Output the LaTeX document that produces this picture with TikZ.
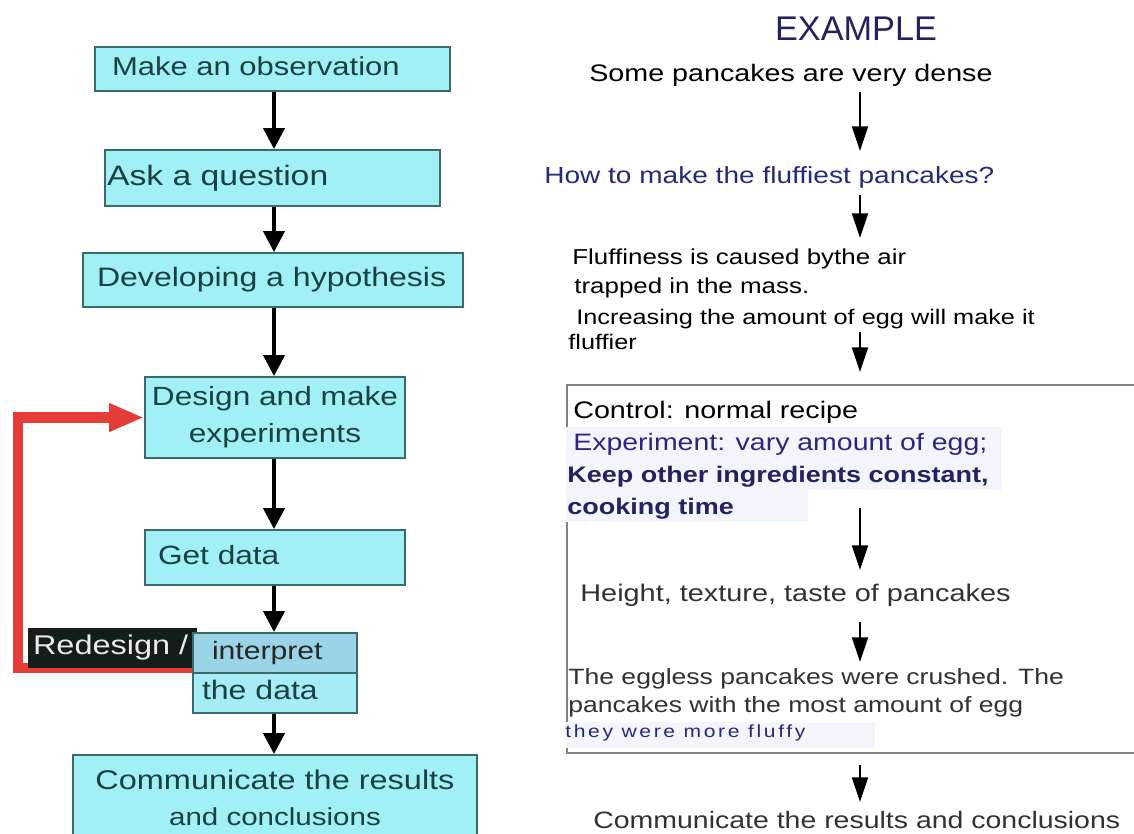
\documentclass[tikz,border=0pt]{standalone}
\usepackage{fontspec}
\setmainfont{Liberation Sans}
\newfontfamily\wf[FakeStretch=1.2]{Liberation Sans}
\newfontfamily\nf{Liberation Sans}
\newfontfamily\lsf[FakeStretch=1.2,LetterSpace=15]{Liberation Sans}
\usetikzlibrary{arrows.meta}
\definecolor{cyanfill}{RGB}{160,240,245}
\definecolor{interpfill}{RGB}{155,212,230}
\definecolor{datafill}{RGB}{165,236,245}
\definecolor{boxline}{RGB}{60,105,105}
\definecolor{tealtext}{RGB}{25,65,65}
\definecolor{redc}{RGB}{228,60,55}
\definecolor{navy}{RGB}{40,40,125}
\definecolor{navyd}{RGB}{35,35,95}
\definecolor{darkg}{RGB}{50,50,50}
\definecolor{hl}{RGB}{243,245,252}
\definecolor{frameg}{RGB}{130,130,130}
\definecolor{rdblack}{RGB}{20,28,28}
\newcommand\fs[1]{\fontsize{#1}{#1}\selectfont}
\begin{document}
\begin{tikzpicture}[x=0.02cm,y=-0.02cm,
  box/.style={draw=boxline, line width=1pt, fill=cyanfill, text=tealtext, inner ysep=0pt},
  one/.style={text height=11pt, text depth=3.5pt, align=left},
  bigarr/.style={line width=2.3pt, -{Triangle[length=12pt,width=12pt]}},
  smallarr/.style={line width=1.4pt, -{Triangle[length=14pt,width=9pt]}},
  redarr/.style={draw=redc, line width=5.7pt, line join=miter, -{Triangle[length=20pt,width=15pt]}},
  rt/.style={inner sep=0pt, anchor=base west}]
\clip (0,0) rectangle (1134,834);
\fill[white] (0,0) rectangle (1134,834);

% ---------- left flow ----------
\node[box, one, font=\wf\fs{14.7}, minimum height=0.88cm, text width=6.42cm, inner xsep=0.34cm] (obs) at (272.5,69) {Make an observation};
\node[box, one, font=\wf\fs{16}, text height=11.5pt, minimum height=1.12cm, text width=6.62cm, inner xsep=0.04cm] (ask) at (272.5,178) {Ask a question};
\node[box, one, font=\wf\fs{15.2}, minimum height=1.08cm, text width=7.04cm, inner xsep=0.28cm] (hyp) at (273,280) {Developing a hypothesis};
\node[box, font=\wf\fontsize{15}{21}\selectfont, align=center, minimum width=5.2cm, minimum height=1.62cm] (design) at (275,417.5) {Design and make\\experiments};
\node[box, one, font=\wf\fs{15}, minimum height=1.1cm, text width=4.68cm, inner xsep=0.26cm] (getdata) at (275,557.5) {Get data};

\coordinate (rs) at (200,668);
\coordinate (rl) at (18,668);
\draw[redarr] (rs) -- (rl) |- (design.west);

\node[fill=rdblack, text=white!92!black, one, font=\wf\fs{15.4}, inner ysep=0pt, minimum height=0.8cm, text width=3.18cm, inner xsep=0.1cm] (redesign) at (112.5,648) {Redesign /};
\node[box, fill=interpfill, one, text=black!85, font=\wf\fs{14.3}, minimum height=0.8cm, text width=2.52cm, inner xsep=0.38cm] (interp) at (275,653) {interpret};
\node[box, fill=datafill, one, font=\wf\fs{15.2}, minimum height=0.8cm, text width=2.92cm, inner xsep=0.18cm] (thedata) at (275,693) {the data};
\node[box, align=center, font=\wf\fontsize{15.4}{20.4}\selectfont, minimum width=8.08cm, minimum height=1.7cm] (comm) at (275,797.5)
  {Communicate the results\\\fontsize{14}{20.4}\selectfont and conclusions};

\coordinate (ax) at (274,0);
\draw[bigarr] (obs.south -| ax) -- (ask.north -| ax);
\draw[bigarr] (ask.south -| ax) -- (hyp.north -| ax);
\draw[bigarr] (hyp.south -| ax) -- (design.north -| ax);
\draw[bigarr] (design.south -| ax) -- (getdata.north -| ax);
\draw[bigarr] (getdata.south -| ax) -- (interp.north -| ax);
\draw[bigarr] (thedata.south -| ax) -- (comm.north -| ax);

% ---------- right example ----------
\draw[frameg, line width=1.3pt] (567,385) rectangle (1145,753);
\fill[hl] (566,427) rectangle (1002,490);
\fill[hl] (566,490) rectangle (808,522);
\fill[hl] (566,722) rectangle (875,748);

\node[inner sep=0pt, font=\nf\fs{19.5}, text=navyd] (ex) at (856,29) {EXAMPLE};
\node[rt, font=\wf\fs{13.6}, text=black] (dense) at (589,82) {Some pancakes are very dense};
\node[rt, font=\wf\fs{13.3}, text=navy] (how) at (544,184) {How to make the fluffiest pancakes?};
\node[rt, font=\wf\fs{12.3}, text=black] (h1) at (572,265) {Fluffiness is caused bythe air};
\node[rt, font=\wf\fs{12.3}, text=black] (h2) at (574,294) {trapped in the mass.};
\node[rt, font=\wf\fs{12}, text=black] (h3) at (576,325) {Increasing the amount of egg will make it};
\node[rt, font=\wf\fs{12}, text=black] (h4) at (568,350) {fluffier};
\node[rt, font=\wf\fs{13.6}, text=black] (ctrl) at (573,419) {Control: normal recipe};
\node[rt, font=\wf\fs{13.5}, text=navy] (expm) at (573,451) {Experiment: vary amount of egg;};
\node[rt, font=\wf\bfseries\fs{12.8}, text=navyd] (keep) at (567,483) {Keep other ingredients constant,};
\node[rt, font=\wf\bfseries\fs{12.8}, text=navyd] (cook) at (567,515) {cooking time};
\node[rt, font=\wf\fs{13.7}, text=darkg] (meas) at (580,602) {Height, texture, taste of pancakes};
\node[rt, font=\wf\fs{12.6}, text=darkg] (r1) at (568,685) {The eggless pancakes were crushed. The};
\node[rt, font=\wf\fs{12.6}, text=darkg] (r2) at (568,713) {pancakes with the most amount of egg};
\node[rt, font=\lsf\fs{10}, text=navy] (r3) at (565,738) {they were more fluffy};
\node[rt, font=\wf\fs{13.5}, text=darkg] (rcomm) at (593,829) {Communicate the results and conclusions};

\coordinate (a1s) at (860,92);  \coordinate (a1e) at (860,151);
\coordinate (a2s) at (860,195); \coordinate (a2e) at (860,238);
\coordinate (a3s) at (860,332); \coordinate (a3e) at (860,372);
\coordinate (a4s) at (860,508); \coordinate (a4e) at (860,570);
\coordinate (a5s) at (860,622); \coordinate (a5e) at (860,662);
\coordinate (a6s) at (860,765); \coordinate (a6e) at (860,802);
\draw[smallarr] (a1s) -- (a1e);
\draw[smallarr] (a2s) -- (a2e);
\draw[smallarr] (a3s) -- (a3e);
\draw[smallarr] (a4s) -- (a4e);
\draw[smallarr] (a5s) -- (a5e);
\draw[smallarr] (a6s) -- (a6e);
\end{tikzpicture}
\end{document}
